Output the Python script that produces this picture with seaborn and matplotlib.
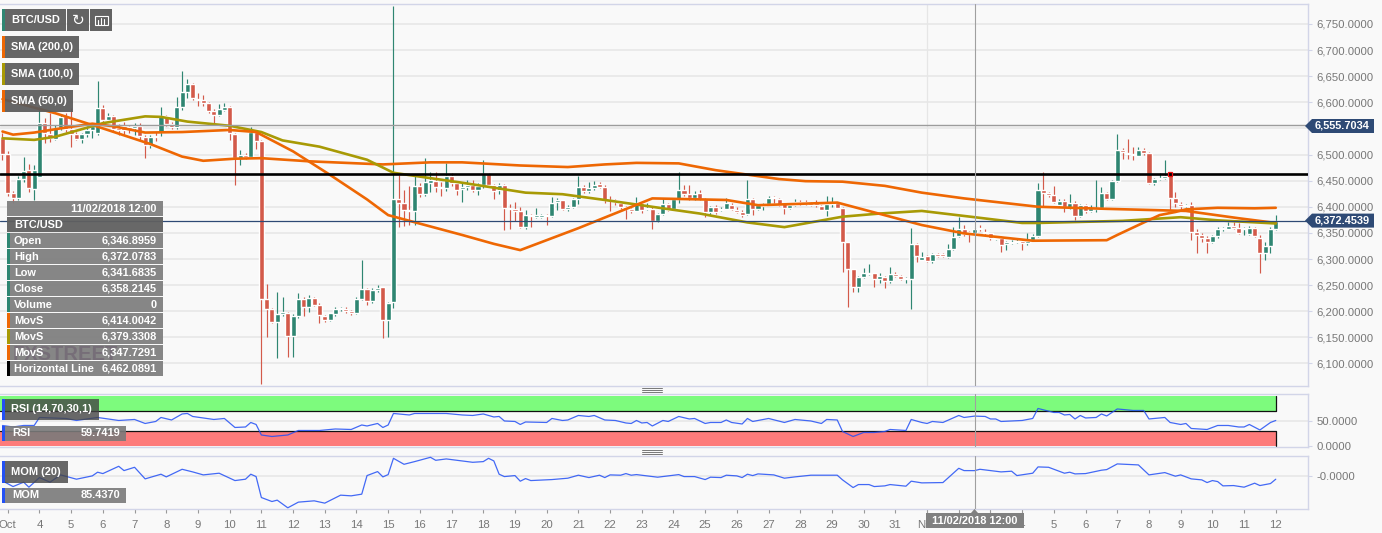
import numpy as np
import pandas as pd
import matplotlib
matplotlib.use("Agg")
import matplotlib.pyplot as plt
from matplotlib.patches import Rectangle, Polygon
import seaborn as sns

# ── Data: 4h candles, 2018-10-02 20:00 to 2018-11-12 00:00 ───────────────────
opens = [6531,6501,6426,6416,6453,6471,6434,6457,6560,6539,
         6529,6550,6573,6548,6539,6529,6539,6547,6542,6589,
         6566,6574,6550,6555,6552,6550,6555,6534,6518,6536,
         6543,6573,6559,6552,6591,6620,6635,6607,6605,6599,
         6584,6575,6585,6591,6539,6494,6499,6495,6544,6526,
         6223,6205,6179,6194,6197,6153,6191,6223,6209,6226,
         6212,6191,6183,6195,6205,6205,6200,6197,6223,6242,
         6220,6241,6246,6183,6217,6414,6408,6394,6392,6440,
         6425,6446,6449,6437,6435,6459,6446,6434,6437,6442,
         6432,6442,6462,6442,6432,6442,6398,6395,6392,6361,
         6384,6381,6380,6384,6382,6409,6412,6396,6399,6414,
         6437,6430,6435,6443,6438,6413,6412,6408,6399,6395,
         6392,6408,6395,6396,6373,6386,6405,6395,6414,6432,
         6425,6416,6426,6414,6390,6399,6393,6396,6403,6394,
         6390,6386,6415,6396,6402,6405,6418,6415,6407,6398,
         6404,6409,6409,6408,6407,6402,6394,6405,6407,6398,
         6332,6280,6247,6266,6271,6273,6261,6266,6257,6271,
         6268,6262,6262,6329,6299,6306,6297,6309,6309,6304,
         6320,6344,6358,6352,6349,6360,6352,6349,6339,6341,
         6328,6331,6332,6334,6330,6336,6344,6432,6427,6422,
         6403,6411,6398,6408,6382,6403,6392,6396,6397,6427,
         6414,6450,6508,6503,6501,6498,6508,6502,6445,6453,
         6455,6464,6416,6406,6401,6403,6352,6346,6341,6332,
         6344,6357,6358,6363,6360,6358,6348,6360,6341,6311,
         6325,6357]
highs = [6541,6506,6430,6458,6495,6482,6480,6591,6570,6579,
         6557,6576,6579,6589,6544,6542,6554,6560,6641,6594,
         6579,6576,6559,6563,6555,6560,6560,6538,6538,6544,
         6591,6576,6563,6611,6659,6644,6636,6617,6614,6601,
         6587,6597,6598,6592,6542,6509,6502,6552,6547,6528,
         6253,6207,6237,6227,6199,6195,6234,6227,6231,6228,
         6215,6193,6197,6209,6209,6209,6202,6227,6299,6244,
         6244,6250,6247,6218,6784,6461,6432,6440,6458,6445,
         6493,6467,6467,6447,6483,6464,6449,6445,6451,6451,
         6445,6490,6464,6444,6445,6444,6405,6410,6400,6394,
         6386,6397,6387,6387,6419,6416,6413,6403,6417,6459,
         6442,6448,6450,6448,6441,6421,6414,6410,6402,6397,
         6419,6410,6407,6399,6389,6416,6407,6416,6466,6442,
         6442,6430,6433,6416,6402,6403,6400,6416,6408,6400,
         6393,6451,6417,6405,6408,6421,6421,6416,6408,6407,
         6414,6412,6412,6410,6412,6403,6421,6418,6410,6400,
         6333,6281,6268,6282,6290,6274,6273,6268,6285,6276,
         6269,6266,6359,6331,6314,6307,6312,6311,6311,6328,
         6362,6380,6365,6354,6360,6365,6357,6350,6344,6344,
         6335,6336,6339,6336,6349,6348,6445,6466,6429,6440,
         6414,6414,6425,6411,6406,6406,6403,6452,6437,6429,
         6452,6539,6512,6529,6515,6514,6512,6505,6455,6465,
         6489,6466,6429,6410,6406,6410,6358,6349,6344,6346,
         6362,6362,6371,6371,6368,6362,6363,6362,6346,6333,
         6362,6384]
lows = [6490,6420,6407,6413,6448,6429,6413,6456,6522,6523,
        6527,6547,6544,6514,6527,6522,6534,6531,6538,6563,
        6563,6544,6538,6538,6541,6538,6528,6493,6512,6525,
        6536,6555,6548,6548,6585,6608,6605,6592,6593,6580,
        6559,6573,6584,6528,6442,6480,6491,6493,6510,6060,
        6151,6177,6110,6190,6113,6113,6188,6190,6199,6210,
        6177,6180,6181,6190,6201,6197,6193,6195,6221,6212,
        6216,6237,6148,6151,6207,6362,6363,6365,6365,6419,
        6420,6428,6429,6420,6431,6440,6422,6410,6432,6429,
        6423,6435,6440,6414,6425,6356,6357,6373,6359,6357,
        6361,6378,6378,6365,6381,6394,6394,6391,6397,6405,
        6426,6427,6432,6435,6407,6391,6403,6395,6376,6389,
        6391,6388,6393,6357,6370,6384,6391,6394,6407,6421,
        6413,6413,6412,6380,6384,6386,6391,6395,6394,6389,
        6381,6384,6384,6394,6394,6403,6408,6402,6387,6395,
        6402,6403,6403,6402,6399,6393,6382,6400,6397,6276,
        6209,6236,6236,6263,6269,6246,6254,6244,6255,6265,
        6259,6254,6204,6295,6298,6295,6292,6303,6303,6302,
        6318,6343,6344,6333,6347,6354,6346,6337,6337,6314,
        6318,6329,6330,6318,6327,6335,6343,6400,6418,6408,
        6400,6390,6395,6374,6381,6388,6390,6390,6395,6413,
        6413,6448,6492,6491,6489,6497,6499,6443,6441,6451,
        6454,6394,6400,6394,6399,6336,6312,6333,6311,6330,
        6341,6354,6357,6358,6348,6346,6346,6343,6274,6298,
        6311,6355]
closes = [6501,6426,6416,6453,6469,6435,6471,6560,6541,6531,
          6550,6571,6548,6539,6529,6539,6547,6554,6589,6566,
          6574,6548,6546,6546,6548,6555,6536,6518,6534,6533,
          6574,6559,6552,6591,6620,6635,6608,6605,6599,6584,
          6576,6587,6591,6541,6494,6499,6495,6544,6526,6223,
          6205,6179,6194,6198,6153,6191,6223,6209,6226,6212,
          6192,6183,6196,6204,6207,6200,6197,6223,6242,6220,
          6241,6245,6183,6216,6414,6408,6394,6391,6440,6425,
          6448,6451,6437,6435,6458,6446,6432,6437,6442,6432,
          6439,6462,6442,6430,6442,6398,6395,6392,6361,6384,
          6382,6384,6384,6382,6408,6412,6396,6399,6414,6437,
          6430,6435,6442,6438,6413,6412,6409,6399,6395,6391,
          6408,6394,6397,6373,6386,6405,6394,6414,6432,6425,
          6416,6424,6414,6390,6399,6390,6396,6408,6395,6390,
          6385,6415,6396,6403,6405,6417,6416,6404,6398,6404,
          6409,6405,6405,6403,6404,6394,6405,6408,6398,6332,
          6281,6247,6266,6273,6273,6261,6268,6258,6271,6268,
          6262,6264,6329,6305,6303,6297,6309,6306,6306,6320,
          6343,6358,6348,6348,6358,6357,6349,6340,6341,6327,
          6332,6333,6334,6331,6335,6344,6432,6427,6422,6410,
          6411,6399,6408,6382,6403,6392,6397,6398,6427,6414,
          6449,6508,6505,6501,6499,6508,6503,6446,6453,6455,
          6459,6417,6408,6402,6404,6352,6346,6341,6332,6344,
          6357,6359,6363,6360,6349,6360,6360,6344,6311,6325,
          6358,6372]

sma200_idx = [0,10,19,28,34,38,44,49,58,72,81,87,98,107,114,120,128,135,147,152,159,167,174,182,196,209,224,234,241]
sma200_val = [6606,6579,6550,6520,6496,6488,6492,6493,6487,6481,6485,6485,6479,6476,6481,6484,6483,6470,6453,6449,6448,6440,6427,6416,6400,6396,6392,6378,6369]
sma100_idx = [0,6,10,19,27,30,35,43,49,53,60,69,74,87,99,106,114,125,132,141,148,159,166,174,184,193,196,212,223,230,241]
sma100_val = [6531,6528,6534,6560,6573,6572,6563,6555,6543,6527,6515,6490,6465,6446,6427,6424,6413,6397,6387,6370,6361,6381,6387,6392,6380,6369,6369,6373,6380,6374,6368]
sma50_idx = [0,2,6,11,17,21,27,34,43,48,55,62,69,73,87,93,98,109,123,137,143,158,174,182,195,209,211,215,219,222,224,230,237,241]
sma50_val = [6544,6538,6542,6550,6559,6554,6542,6543,6547,6543,6506,6461,6414,6384,6346,6329,6317,6359,6416,6413,6403,6408,6365,6349,6335,6336,6346,6365,6384,6390,6395,6398,6397,6398]

rsi_idx = [0,2,4,6,7,12,14,18,20,22,25,27,29,30,32,34,35,36,40,42,44,46,47,48,49,51,54,56,60,63,66,68,69,71,72,73,74,77,78,84,87,
           89,91,93,94,95,97,98,99,103,104,106,107,109,111,112,114,116,118,119,120,121,122,123,125,126,128,130,131,133,134,136,137,138,140,141,142,145,148,150,153,155,156,158,159,161,163,165,167,168,171,172,174,
           175,176,178,181,182,184,186,187,188,189,193,195,196,199,200,201,202,203,204,205,207,208,209,211,214,216,217,220,221,223,224,225,228,230,232,234,235,236,238,240,241]
rsi_val = [41,38,41,41,57,55,51,57,54,51,53,45,49,57,52,64,65,59,53,55,37,38,47,43,22,19,22,31,31,34,33,42,40,45,37,42,65,62,65,65,62,
           61,64,58,59,50,49,43,48,47,55,51,52,61,59,61,52,51,46,45,51,46,47,40,51,49,59,54,55,45,47,47,52,47,44,55,49,55,47,53,50,45,53,52,29,19,27,27,29,33,31,53,47,
           45,49,47,61,57,59.74,59,54,54,49,51,55,75,67,67,62,63,54,61,56,57,64,60,74,71,71,54,57,47,43,45,35,33,41,41,38,38,43,32,47,51]

mom_idx = [0,2,4,5,7,9,11,14,17,18,19,22,23,25,27,30,31,34,36,38,41,44,46,47,48,49,51,52,54,56,59,61,64,66,68,69,71,72,73,74,76,78,81,82,84,87,
           89,91,92,93,94,95,97,98,99,100,104,107,109,111,113,114,115,117,118,119,120,124,128,129,131,133,134,136,137,139,140,141,142,143,146,148,150,153,158,159,161,162,164,165,167,168,171,172,174,
           178,181,182,184,185,189,191,192,195,196,198,201,202,203,205,208,209,211,215,217,220,222,223,225,227,228,229,230,231,233,235,237,238,240,241]
mom_val = [-79,-170,-100,-180,-26,-100,17,-52,1,60,38,155,86,139,-47,28,-15,107,65,17,44,-74,-52,28,-10,-346,-410,-388,-511,-420,-399,-436,-308,-319,-292,6,70,-15,22,283,187,230,299,251,273,241,
           219,230,283,241,28,-10,6,-84,-42,-74,-58,-36,12,-26,12,-26,17,12,38,12,22,-20,22,-10,-10,-58,-20,-26,12,1,-26,28,6,33,17,-36,-15,12,12,-63,-186,-138,-138,-170,-159,-138,-164,-84,-111,
           -106,123,86,85.44,107,65,76,6,44,145,139,44,60,33,38,92,102,193,177,17,54,-4,17,-47,-63,-106,-74,-90,-159,-154,-180,-116,-154,-122,-52]

day_labels = ["Oct"] + [str(d) for d in range(4, 32)] + ["Nov"] + [str(d) for d in range(2, 13)]
price_ticks = list(range(6100, 6751, 50))

last_price = 6372.4539
level_price = 6555.7034
horizontal_line = 6462.0891
cursor_idx = 184
anchor_idx = 221

info_rows = [("Open", "6,346.8959"), ("High", "6,372.0783"), ("Low", "6,341.6835"), ("Close", "6,358.2145"),
             ("Volume", "0"), ("MovS", "6,414.0042"), ("MovS", "6,379.3308"), ("MovS", "6,347.7291"),
             ("Horizontal Line", "6,462.0891")]

# ── Colours ──────────────────────────────────────────────────────────────────
BG = "#f9f9f9"
GRID = "#e6e6e6"
FRAME = "#d2d5e8"
UP = "#2f8672"
DOWN = "#d35a4a"
ORANGE = "#ee6703"
OLIVE = "#a89a05"
BLUE = "#2350f5"
NAVY = "#2e4a75"
TEXT = "#777777"

sns.set_style("white", {"axes.facecolor": BG, "figure.facecolor": BG})
plt.rcParams["font.family"] = ["Liberation Sans", "DejaVu Sans"]

W, H = 1382, 533
fig = plt.figure(figsize=(W / 100, H / 100), dpi=100)

def pane(top, bottom):
    return fig.add_axes([0, 1 - bottom / H, 1308 / W, (bottom - top) / H])

ax = pane(4.3, 385.7)
ax_rsi = pane(394.3, 446.7)
ax_mom = pane(456, 509)

candles = pd.DataFrame({"open": opens, "high": highs, "low": lows, "close": closes})
candles["idx"] = candles.index
candles["colour"] = np.where(candles["close"] >= candles["open"], UP, DOWN)
XLIM = (-0.47, 247.1)
day_ticks = [1 + 6 * k for k in range(len(day_labels))]

# ── Main pane ────────────────────────────────────────────────────────────────
for p in price_ticks:
    ax.axhline(p, color=GRID, lw=1.1, zorder=0)
ax.axvline(day_ticks[day_labels.index("Nov")], color=GRID, lw=0.9, zorder=0)

ax.vlines(candles["idx"], candles["low"], candles["high"], colors=candles["colour"], lw=0.85, zorder=2)
ax.bar(candles["idx"], (candles["close"] - candles["open"]).abs().clip(lower=1.5),
       bottom=candles[["open", "close"]].min(axis=1), width=0.96, color=candles["colour"], zorder=3)

sns.lineplot(x=sma200_idx, y=sma200_val, ax=ax, color=ORANGE, lw=1.9, errorbar=None, zorder=4)
sns.lineplot(x=sma100_idx, y=sma100_val, ax=ax, color=OLIVE, lw=1.9, errorbar=None, zorder=4)
sns.lineplot(x=sma50_idx, y=sma50_val, ax=ax, color=ORANGE, lw=1.9, errorbar=None, zorder=4)

ax.axhline(level_price, color="#9c9c9c", lw=1.0, zorder=5)
ax.axhline(last_price, color=NAVY, lw=0.9, zorder=5)
ax.axhline(horizontal_line, color="black", lw=1.9, zorder=5)
ax.plot([anchor_idx], [horizontal_line], "s", ms=3.4, mfc="black", mec="#ee1111", mew=0.9, zorder=6)

ax.set_ylim(6057.5, 6787.5)
ax.set_yticks(price_ticks)
# 6,550 sits under the price tag in the reference
ax.set_yticklabels(["" if p == 6550 else f"{p:,.4f}" for p in price_ticks])

# ── RSI pane ─────────────────────────────────────────────────────────────────
ax_rsi.axhline(50, color=GRID, lw=1.1, zorder=0)
ax_rsi.fill_between([XLIM[0], 241], 70, 100, color="#7dfb7d", lw=0, zorder=1)
ax_rsi.fill_between([XLIM[0], 241], 0, 30, color="#fd7b7b", lw=0, zorder=1)
ax_rsi.plot([XLIM[0], 241, 241], [70, 70, 100], color="#111111", lw=0.9, zorder=2)
ax_rsi.plot([XLIM[0], 241, 241], [30, 30, 0], color="#111111", lw=0.9, zorder=2)
sns.lineplot(x=rsi_idx, y=rsi_val, ax=ax_rsi, color=BLUE, lw=0.9, alpha=0.85, errorbar=None, zorder=3)
ax_rsi.set_ylim(-1.4, 103.3)
ax_rsi.set_yticks([0, 50])
ax_rsi.set_yticklabels(["0.0000", "50.0000"])

# ── Momentum pane ────────────────────────────────────────────────────────────
ax_mom.axhline(0, color=GRID, lw=1.1, zorder=0)
sns.lineplot(x=mom_idx, y=mom_val, ax=ax_mom, color=BLUE, lw=0.9, alpha=0.85, errorbar=None, zorder=3)
ax_mom.set_ylim(-530, 320)
ax_mom.set_yticks([0])
ax_mom.set_yticklabels(["-0.0000"])

# ── Shared axis styling ──────────────────────────────────────────────────────
for a in (ax, ax_rsi, ax_mom):
    a.set_xlim(*XLIM)
    a.set_xlabel("")
    a.set_ylabel("")
    a.set_facecolor(BG)
    a.axvline(cursor_idx, color="#a0a0a0", lw=0.8, zorder=7)
    a.yaxis.tick_right()
    a.tick_params(axis="y", length=3, width=0.8, color=FRAME, labelcolor=TEXT, labelsize=8.2, pad=3, right=True, left=False)
    a.spines["left"].set_visible(False)
    for s in ("top", "bottom", "right"):
        a.spines[s].set_color(FRAME)
        a.spines[s].set_linewidth(1.0)
    a.set_xticks([])
ax_mom.set_xticks(day_ticks)
ax_mom.set_xticklabels(day_labels)
ax_mom.tick_params(axis="x", length=3, width=0.8, color="#999999", labelcolor=TEXT, labelsize=8.2, pad=5, bottom=True)

# ── Overlay (widgets, in screen pixels) ──────────────────────────────────────
over = fig.add_axes([0, 0, 1, 1], zorder=10)
over.set_xlim(0, W)
over.set_ylim(H, 0)
over.axis("off")
over.patch.set_alpha(0)

LABEL = dict(color="white", fontsize=7.9, fontweight="bold", va="center")

def box(x0, y0, x1, y1, colour="#5b5b5b", alpha=0.95, z=1):
    over.add_patch(Rectangle((x0, y0), x1 - x0, y1 - y0, facecolor=colour, edgecolor="none", alpha=alpha, zorder=z))

def legend_item(x1, y0, y1, bar, text):
    box(2, y0, x1, y1, alpha=0.93)
    box(2, y0, 5, y1, colour=bar, alpha=1, z=2)
    over.text(11, (y0 + y1) / 2, text, zorder=3, **LABEL)

legend_item(66, 9, 31, UP, "BTC/USD")
box(67, 9, 89, 31)
box(90, 9, 112, 31)
over.text(78, 20.5, "\u21bb", color="white", fontsize=11, ha="center", va="center", family="DejaVu Sans", zorder=3)
over.add_patch(Rectangle((95, 16), 13, 9, fill=False, edgecolor="white", lw=0.8, zorder=3))
for bx, bt in ((98, 20), (101, 18), (104, 19)):
    over.plot([bx, bx], [bt, 25], color="white", lw=0.8, zorder=3)
legend_item(79, 36, 58, ORANGE, "SMA (200,0)")
legend_item(79, 63, 85, OLIVE, "SMA (100,0)")
legend_item(73, 90, 112, ORANGE, "SMA (50,0)")

# hover table
box(7, 201, 163, 216, colour="#808080")
over.text(157, 208.5, "11/02/2018 12:00", ha="right", zorder=3, **LABEL)
box(7, 217, 163, 232, colour="#606060")
over.text(14, 224.5, "BTC/USD", zorder=3, **LABEL)
bar_colours = [UP, UP, UP, UP, UP, ORANGE, OLIVE, ORANGE, "black"]
for n, ((name, value), bar) in enumerate(zip(info_rows, bar_colours)):
    y0 = 233 + 16 * n
    box(7, y0, 163, y0 + 15, colour="#808080")
    box(7, y0, 10, y0 + 15, colour=bar, alpha=1, z=2)
    over.text(14, y0 + 7.5, name, zorder=3, **LABEL)
    over.text(157, y0 + 7.5, value, ha="right", zorder=3, **LABEL)
over.text(65, 354, "FXSTREET", color="#4a2a50", alpha=0.25, fontsize=14.5, fontweight="bold",
          ha="center", va="center", zorder=2)

# indicator labels
box(2, 399, 99, 420, colour="#444444", alpha=0.8)
box(2, 399, 5, 420, colour=BLUE, alpha=1, z=2)
over.text(11, 409.5, "RSI (14,70,30,1)", zorder=3, **LABEL)
box(2, 426, 126, 441, colour="#7a7a7a", alpha=0.9)
box(2, 426, 5, 441, colour=BLUE, alpha=1, z=2)
over.text(12, 433.5, "RSI", zorder=3, **LABEL)
over.text(120, 433.5, "59.7419", ha="right", zorder=3, **LABEL)
box(2, 461, 68, 483, colour="#444444", alpha=0.8)
box(2, 461, 5, 483, colour=BLUE, alpha=1, z=2)
over.text(11, 472, "MOM (20)", zorder=3, **LABEL)
box(2, 488, 126, 503, colour="#7a7a7a", alpha=0.9)
box(2, 488, 5, 503, colour=BLUE, alpha=1, z=2)
over.text(12, 495.5, "MOM", zorder=3, **LABEL)
over.text(120, 495.5, "85.4370", ha="right", zorder=3, **LABEL)

# drag handles between the panes
for yc in (390, 452):
    for dy in (-2, 0, 2):
        over.plot([642, 662], [yc + dy, yc + dy], color="#777777", lw=0.7, zorder=3)

# price tags on the right axis
for yc, text in ((126, "6,555.7034"), (220.6, "6,372.4539")):
    over.add_patch(Polygon([(1305, yc), (1312, yc - 7), (1374, yc - 7), (1374, yc + 7), (1312, yc + 7)],
                           closed=True, facecolor=NAVY, edgecolor="none", zorder=3))
    over.text(1315, yc, text, ha="left", zorder=4, **LABEL)

# cursor date tag
box(926, 513, 1024, 528, colour="#808080", alpha=1, z=3)
over.add_patch(Polygon([(971, 513), (974.5, 509), (978, 513)], closed=True, facecolor="#808080", edgecolor="none", zorder=3))
over.text(975, 520.5, "11/02/2018 12:00", ha="center", zorder=4, **LABEL)

fig.savefig("out.png", dpi=100, facecolor=BG)
